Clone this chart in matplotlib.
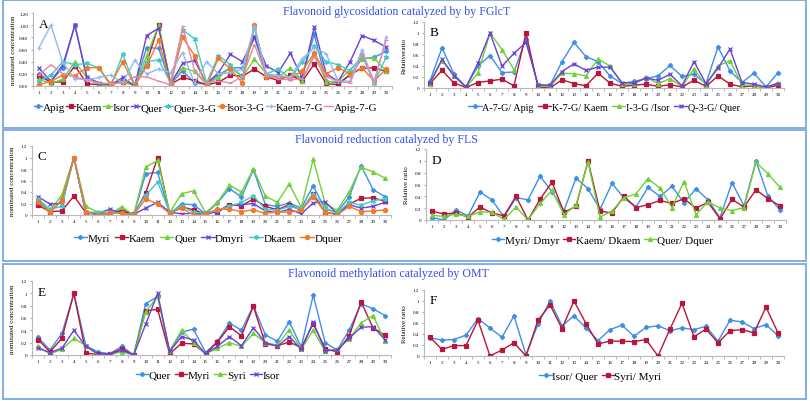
import numpy as np
import matplotlib
matplotlib.use('Agg')
import matplotlib.pyplot as plt
from matplotlib.patches import Rectangle

plt.rcParams['font.family'] = ['Liberation Serif', 'DejaVu Serif']

nan = np.nan
samples = list(range(1, 31))

# panel A - nominated concentration, glycosidation
apig = [0.20, 0.08, 0.30, 1.00, 0.12, 0.03, 0.02, 0.10, 0.01, 0.63, 0.62, 0.03, 0.25, 0.05, 0.03,
        0.18, 0.30, 0.30, 0.80, 0.18, 0.15, 0.15, 0.15, 0.85, 0.08, 0.05, 0.18, 0.45, 0.47, 0.57]
kaem = [0.17, 0.06, 0.07, 0.33, 0.04, 0.02, 0.03, 0.07, 0.01, 0.38, 1.00, 0.03, 0.14, 0.09, 0.02,
        0.06, 0.18, 0.16, 0.28, 0.15, 0.09, 0.18, 0.08, 0.36, 0.04, 0.02, 0.19, 0.29, 0.30, 0.24]
isor = [0.11, 0.04, 0.11, 0.40, 0.14, 0.02, 0.01, 0.08, 0.00, 0.50, 1.00, 0.06, 0.30, 0.24, 0.02,
        0.14, 0.30, 0.15, 0.44, 0.20, 0.14, 0.30, 0.09, 0.53, 0.07, 0.08, 0.27, 0.45, 0.46, 0.25]
quer = [0.29, 0.08, 0.35, 1.00, 0.15, 0.05, 0.02, 0.14, 0.00, 0.83, 0.95, 0.04, 0.37, 0.42, 0.04,
        0.22, 0.52, 0.40, 0.80, 0.33, 0.22, 0.54, 0.13, 0.97, 0.20, 0.08, 0.40, 0.83, 0.75, 0.64]
quer3g = [0.08, 0.18, 0.40, 0.35, 0.37, 0.30, 0.00, 0.52, 0.02, 0.40, 0.43, 0.05, 0.92, 0.78, 0.05,
          0.50, 0.35, 0.15, 0.95, 0.20, 0.28, 0.12, 0.40, 0.65, 0.40, 0.35, 0.25, 0.50, 0.05, 0.47]
isor3g = [0.02, 0.08, 0.18, 0.17, 0.30, 0.30, 0.03, 0.40, 0.00, 0.33, 0.75, 0.03, 0.80, 0.50, 0.00,
          0.46, 0.28, 0.05, 1.00, 0.15, 0.15, 0.13, 0.25, 0.54, 0.20, 0.30, 0.20, 0.30, 0.08, 0.28]
kaem7g = [0.63, 1.00, 0.38, 0.12, 0.10, 0.14, 0.18, 0.05, 0.42, 0.20, 0.28, 0.22, 0.55, 0.05, 0.40,
          0.20, 0.22, 0.28, 0.98, 0.20, 0.17, 0.15, 0.45, 0.63, 0.53, 0.08, 0.08, 0.60, 0.02, 0.80]
apig7g = [0.18, 0.35, 0.20, 0.15, 0.10, 0.05, 0.04, 0.05, 0.15, 0.15, 0.08, 0.02, 0.98, 0.25, 0.05,
          0.08, 0.05, 0.15, 0.68, 0.17, 0.12, 0.10, 0.12, 0.48, 0.15, 0.08, 0.05, 0.55, 0.08, 0.75]

# panel B - relative ratio
r_a7g_apig = [0.13, 0.73, 0.25, 0.02, 0.40, 0.59, 0.28, 0.29, 0.90, 0.05, 0.05, 0.48, 0.83, 0.57, 0.48,
              0.22, 0.08, 0.12, 0.17, 0.22, 0.41, 0.21, 0.25, 0.08, 0.75, 0.31, 0.10, 0.27, 0.02, 0.28]
r_k7g_kaem = [0.08, 0.32, 0.09, 0.01, 0.10, 0.13, 0.16, 0.04, 1.00, 0.02, 0.00, 0.15, 0.08, 0.04, 0.27,
              0.09, 0.03, 0.05, 0.07, 0.03, 0.06, 0.02, 0.14, 0.03, 0.22, 0.07, 0.02, 0.04, 0.00, 0.05]
r_i3g_isor = [0.08, 0.50, 0.22, 0.01, 0.27, 1.00, 0.70, 0.33, nan, 0.03, 0.03, 0.27, 0.26, 0.22, 0.53,
              0.40, 0.07, 0.07, 0.20, 0.08, 0.17, 0.03, 0.35, 0.05, 0.40, 0.50, 0.05, 0.05, 0.00, 0.10]
r_q3g_quer = [0.10, 0.52, 0.22, 0.02, 0.45, 1.00, 0.40, 0.63, 0.83, 0.06, 0.05, 0.30, 0.44, 0.32, 0.38,
              0.38, 0.10, 0.09, 0.18, 0.14, 0.25, 0.04, 0.48, 0.08, 0.36, 0.71, 0.10, 0.07, 0.02, 0.08]

# panel C - reduction
myri = [0.25, 0.05, 0.27, 1.00, 0.03, 0.01, 0.02, 0.10, 0.00, 0.72, 0.74, 0.02, 0.19, 0.18, 0.02,
        0.21, 0.46, 0.31, 0.79, 0.18, 0.15, 0.21, 0.12, 0.51, 0.10, 0.05, 0.31, 0.86, 0.44, 0.32]
dmyri = [0.32, 0.19, 0.20, 1.00, 0.03, 0.03, 0.10, 0.03, 0.01, 0.12, 0.22, 0.05, 0.02, 0.03, 0.03,
         0.05, 0.16, 0.18, 0.20, 0.07, 0.04, 0.10, 0.02, 0.21, 0.23, 0.02, 0.18, 0.12, 0.15, 0.22]
dkaem = [0.28, 0.10, 0.15, 1.00, 0.05, 0.05, 0.05, 0.03, 0.01, 0.35, 0.57, 0.05, 0.15, 0.05, 0.03,
         0.08, 0.15, 0.22, 0.33, 0.10, 0.08, 0.15, 0.10, 0.37, 0.12, 0.03, 0.22, 0.17, 0.25, 0.28]
dquer = [0.22, 0.05, 0.25, 1.00, 0.05, 0.00, 0.03, 0.03, 0.00, 0.28, 0.19, 0.03, 0.12, 0.00, 0.02,
         0.10, 0.10, 0.06, 0.09, 0.03, 0.05, 0.05, 0.08, 0.32, 0.05, 0.00, 0.15, 0.06, 0.07, 0.09]

# panel D - relative ratio
r_myri_dmyr = [0.04, 0.00, 0.17, 0.07, 0.47, 0.34, 0.05, 0.38, 0.34, 0.74, 0.48, 0.16, 0.71, 0.53, 0.18,
               0.62, 0.37, 0.22, 0.55, 0.40, 0.57, 0.29, 0.53, 0.34, 0.04, 0.63, 0.24, 1.00, 0.40, 0.17]
r_kaem_dkaem = [0.15, 0.10, 0.12, 0.05, 0.22, 0.12, 0.07, 0.40, 0.00, 0.35, 0.64, 0.13, 0.23, 1.00, 0.15,
                0.12, 0.40, 0.21, 0.26, 0.33, 0.28, 0.36, 0.20, 0.30, 0.02, 0.35, 0.22, 0.51, 0.36, 0.24]
r_quer_dquer = [0.08, 0.06, 0.10, 0.06, 0.14, 0.13, 0.01, 0.22, 0.00, 0.28, 0.50, 0.09, 0.25, 0.98, 0.05,
                0.15, 0.38, 0.44, 0.70, 0.54, 0.21, 0.65, 0.09, 0.31, 0.20, 0.16, 0.21, 0.98, 0.78, 0.55]

# panel E - methylation
syri = [0.14, 0.02, 0.09, 0.27, 0.15, 0.00, 0.01, 0.05, 0.00, 0.70, 0.95, 0.07, 0.40, 0.20, 0.02,
        0.11, 0.20, 0.14, 0.35, 0.20, 0.16, 0.41, 0.10, 0.40, 0.06, 0.10, 0.26, 0.52, 0.64, 0.22]

# panel F - relative ratio
r_isor_quer = [0.33, 0.29, 0.30, 0.38, 0.68, 0.51, 0.34, 0.73, 0.02, 0.58, 1.00, 0.55, 0.73, 0.51, 0.28,
               0.48, 0.56, 0.36, 0.52, 0.55, 0.46, 0.51, 0.48, 0.54, 0.27, 0.65, 0.62, 0.50, 0.57, 0.37]
r_syri_myri = [0.34, 0.12, 0.19, 0.19, 0.65, 0.00, 0.11, 0.24, 0.00, 0.65, 0.93, 0.50, 1.00, 0.59, 0.22,
               0.27, 0.27, 0.26, 0.30, 0.00, 0.49, 0.96, 0.35, 0.49, 0.24, 0.46, 0.48, 0.42, 0.89, 0.42]

BLUE = '#3d8fe8'
RED = '#b8163c'
GREEN = '#6fd136'
PURPLE = '#6a42d6'
TEAL = '#44c9c9'
ORANGE = '#f07a2c'
LBLUE = '#8dbbf2'
PINK = '#e58aaa'
STAR = (6, 2, 0)

W, H = 810, 402
fig = plt.figure(figsize=(W / 100, H / 100), dpi=100)


def px_axes(l, r, y0, ytop):
    return fig.add_axes([l / W, 1 - y0 / H, (r - l) / W, (y0 - ytop) / H])


def setup(ax, ylabel, letter, fmt2=False):
    ax.set_xlim(0.5, 30.5)
    ax.set_ylim(0, 1.2)
    ax.set_xticks(samples)
    ax.set_xticklabels([str(s) for s in samples], fontsize=3.6)
    ax.set_xticks(np.arange(0.5, 31, 1), minor=True)
    ax.tick_params(axis='x', which='major', length=0, pad=3)
    ax.tick_params(axis='x', which='minor', length=2, color='#b0b0b0')
    yt = [0, 0.2, 0.4, 0.6, 0.8, 1.0, 1.2]
    ax.set_yticks(yt)
    if fmt2:
        ax.set_yticklabels(['%.2f' % v for v in yt], fontsize=3.6)
    else:
        ax.set_yticklabels(['0', '0.2', '0.4', '0.6', '0.8', '1', '1.2'], fontsize=3.6)
    ax.tick_params(axis='y', length=1.5, color='#b0b0b0', pad=2)
    for s in ['top', 'right']:
        ax.spines[s].set_visible(False)
    for s in ['left', 'bottom']:
        ax.spines[s].set_color('#b8b8b8')
        ax.spines[s].set_linewidth(0.8)
    ax.set_ylabel(ylabel, fontsize=5)
    ax.yaxis.set_label_coords(-0.047, 0.5)
    ax.patch.set_alpha(0)
    ax.text(0.95, 1.02, letter, fontsize=9.5, ha='left', va='center')


def draw(ax, series, ly, lx=0.49, fs=8, hl=1.1, cs=0.35):
    for vals, lab, col, mk, ms in series:
        ax.plot(samples, vals, color=col, lw=1.0, marker=mk, ms=ms, mew=0.9,
                mfc=col, mec=col, label=lab)
    ax.legend(loc='center', bbox_to_anchor=(lx, ly), ncol=len(series),
              frameon=False, fontsize=fs, handlelength=hl, handletextpad=0.05,
              columnspacing=cs, borderpad=0, borderaxespad=0)


# frames around the three rows
for (y0, y1) in [(1, 129), (131, 262), (265, 400)]:
    fig.add_artist(Rectangle((3 / W, 1 - y1 / H), 803 / W, (y1 - y0) / H,
                             transform=fig.transFigure, fill=False,
                             edgecolor='#7aa8e0', lw=1.3))

title_kw = dict(color='#3550e8', fontsize=8.6, ha='center', va='center')
fig.text(397 / W, 1 - 12 / H, 'Flavonoid glycosidation catalyzed by by FGlcT', **title_kw)
fig.text(386 / W, 1 - 140 / H, 'Flavonoid reduction catalyzed by FLS', **title_kw)
fig.text(388 / W, 1 - 274 / H, 'Flavonoid methylation catalyzed by OMT', **title_kw)

# A
axA = px_axes(33, 392, 87, 14)
setup(axA, 'nominated concentration', 'A', fmt2=True)
draw(axA, [
    (apig, 'Apig', BLUE, 'D', 2.2),
    (kaem, 'Kaem', RED, 's', 2.5),
    (isor, 'Isor', GREEN, '^', 2.8),
    (quer, 'Quer', PURPLE, 'x', 3.0),
    (quer3g, 'Quer-3-G', TEAL, STAR, 3.5),
    (isor3g, 'Isor-3-G', ORANGE, 'o', 3.0),
    (kaem7g, 'Kaem-7-G', LBLUE, '+', 3.5),
    (apig7g, 'Apig-7-G', PINK, '_', 3.5),
], -0.29, 0.48, fs=8, hl=0.8, cs=0.1)

# B
axB = px_axes(424, 784, 89, 23)
setup(axB, 'Relativeratio', 'B')
draw(axB, [
    (r_a7g_apig, 'A-7-G/ Apig', BLUE, 'D', 2.2),
    (r_k7g_kaem, 'K-7-G/ Kaem', RED, 's', 2.5),
    (r_i3g_isor, 'I-3-G /Isor', GREEN, '^', 2.8),
    (r_q3g_quer, 'Q-3-G/ Quer', PURPLE, 'x', 3.0),
], -0.29, 0.5, fs=7.3, hl=1.3, cs=0.45)

# C
axC = px_axes(32, 391, 216, 147)
setup(axC, 'nominated concentration', 'C')
draw(axC, [
    (myri, 'Myri', BLUE, 'D', 2.2),
    (kaem, 'Kaem', RED, 's', 2.5),
    (quer, 'Quer', GREEN, '^', 2.8),
    (dmyri, 'Dmyri', PURPLE, 'x', 3.0),
    (dkaem, 'Dkaem', TEAL, STAR, 3.5),
    (dquer, 'Dquer', ORANGE, 'o', 3.0),
], -0.33, hl=1.2, cs=0.45)

# D
axD = px_axes(426, 786, 221, 150)
setup(axD, 'Relative ratio', 'D')
draw(axD, [
    (r_myri_dmyr, 'Myri/ Dmyr', BLUE, 'D', 2.2),
    (r_kaem_dkaem, 'Kaem/ Dkaem', RED, 's', 2.5),
    (r_quer_dquer, 'Quer/ Dquer', GREEN, '^', 2.8),
], -0.28)

# E
axE = px_axes(32, 391, 356, 282)
setup(axE, 'nominated concentration', 'E')
draw(axE, [
    (quer, 'Quer', BLUE, 'D', 2.2),
    (myri, 'Myri', RED, 's', 2.5),
    (syri, 'Syri', GREEN, '^', 2.8),
    (isor, 'Isor', PURPLE, 'x', 3.0),
], -0.27)

# F
axF = px_axes(424, 784, 357, 291)
setup(axF, 'Relative ratio', 'F')
draw(axF, [
    (r_isor_quer, 'Isor/ Quer', BLUE, 'D', 2.2),
    (r_syri_myri, 'Syri/ Myri', RED, 's', 2.5),
], -0.30)

fig.savefig('out.png', dpi=100)
